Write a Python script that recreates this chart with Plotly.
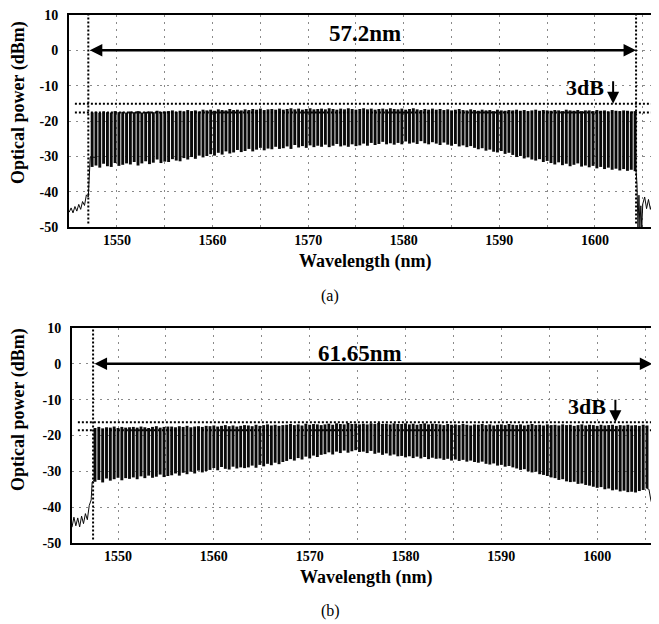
import plotly.graph_objects as go

# ---------------- data ----------------
# (a) comb channels
wl_a = [1547.4,1547.8,1548.2,1548.6,1549.0,1549.4,1549.8,1550.2,1550.6,1551.0,
        1551.4,1551.8,1552.2,1552.6,1553.0,1553.4,1553.8,1554.2,1554.6,1555.0,
        1555.4,1555.8,1556.2,1556.6,1557.0,1557.4,1557.8,1558.2,1558.6,1559.0,
        1559.4,1559.8,1560.2,1560.6,1561.0,1561.4,1561.8,1562.2,1562.6,1563.0,
        1563.4,1563.8,1564.2,1564.6,1565.0,1565.4,1565.8,1566.2,1566.6,1567.0,
        1567.4,1567.8,1568.2,1568.6,1569.0,1569.4,1569.8,1570.2,1570.6,1571.0,
        1571.4,1571.8,1572.2,1572.6,1573.0,1573.4,1573.8,1574.2,1574.6,1575.0,
        1575.4,1575.8,1576.2,1576.6,1577.0,1577.4,1577.8,1578.2,1578.6,1579.0,
        1579.4,1579.8,1580.2,1580.6,1581.0,1581.4,1581.8,1582.2,1582.6,1583.0,
        1583.4,1583.8,1584.2,1584.6,1585.0,1585.4,1585.8,1586.2,1586.6,1587.0,
        1587.4,1587.8,1588.2,1588.6,1589.0,1589.4,1589.8,1590.2,1590.6,1591.0,
        1591.4,1591.8,1592.2,1592.6,1593.0,1593.4,1593.8,1594.2,1594.6,1595.0,
        1595.4,1595.8,1596.2,1596.6,1597.0,1597.4,1597.8,1598.2,1598.6,1599.0,
        1599.4,1599.8,1600.2,1600.6,1601.0,1601.4,1601.8,1602.2,1602.6,1603.0,
        1603.4,1603.8,1604.2]
trough_a = [-33.0,-32.6,-33.2,-32.1,-32.8,-33.0,-31.9,-32.7,-32.4,-32.0,
            -32.3,-31.6,-32.6,-32.0,-31.4,-32.2,-31.8,-30.9,-31.9,-31.5,
            -31.6,-30.8,-31.2,-31.4,-30.5,-30.9,-30.2,-30.7,-29.8,-30.3,
            -29.9,-29.4,-29.8,-29.0,-29.5,-28.6,-29.2,-28.9,-28.2,-28.8,
            -28.5,-27.9,-28.6,-28.1,-27.6,-28.3,-27.8,-28.0,-27.3,-27.9,
            -27.7,-27.2,-27.9,-26.8,-27.5,-27.1,-27.6,-26.9,-27.4,-27.0,
            -27.3,-26.7,-27.4,-27.0,-26.5,-27.2,-26.9,-27.3,-26.6,-27.1,
            -26.9,-26.4,-27.0,-26.2,-26.8,-26.5,-25.9,-26.6,-26.3,-26.7,
            -26.2,-26.6,-25.8,-26.4,-26.1,-26.5,-25.7,-26.3,-26.6,-26.0,
            -26.4,-26.8,-26.1,-26.7,-27.0,-26.5,-27.2,-26.9,-27.4,-27.1,
            -27.6,-28.0,-27.7,-28.4,-28.1,-28.7,-28.9,-28.5,-29.3,-29.0,
            -29.6,-30.2,-29.9,-30.6,-30.3,-30.9,-31.2,-30.8,-31.6,-31.3,
            -31.9,-32.3,-31.7,-32.5,-32.1,-32.8,-32.4,-32.0,-32.9,-32.6,
            -33.1,-32.7,-33.4,-33.0,-33.6,-33.2,-33.8,-33.5,-34.0,-33.6,
            -34.1,-33.8,-34.2]
peak_a = [-17.6,-17.4,-17.7,-17.3,-17.5,-17.6,-17.2,-17.5,-17.4,-17.6,
          -17.3,-17.5,-17.2,-17.6,-17.4,-17.3,-17.5,-17.1,-17.4,-17.3,
          -17.2,-17.0,-17.4,-17.1,-17.3,-16.9,-17.2,-17.0,-17.3,-16.8,
          -17.0,-16.8,-17.1,-16.7,-16.9,-17.0,-16.6,-16.9,-16.8,-17.0,
          -16.7,-16.9,-16.6,-16.8,-16.5,-16.9,-16.7,-16.6,-16.8,-16.5,
          -16.8,-16.6,-16.4,-16.7,-16.5,-16.8,-16.6,-16.4,-16.7,-16.6,
          -16.5,-16.7,-16.4,-16.6,-16.8,-16.5,-16.7,-16.4,-16.6,-16.8,
          -16.6,-16.4,-16.7,-16.5,-16.8,-16.6,-16.5,-16.7,-16.4,-16.6,
          -16.7,-16.5,-16.8,-16.6,-16.4,-16.7,-16.9,-16.6,-16.8,-16.5,
          -16.8,-16.6,-16.9,-16.7,-17.0,-16.8,-16.6,-16.9,-17.0,-16.7,
          -16.9,-17.1,-16.8,-17.0,-16.9,-17.2,-16.8,-17.0,-17.1,-16.9,
          -17.0,-16.8,-17.1,-16.9,-17.2,-17.0,-16.8,-17.1,-16.9,-17.0,
          -17.1,-16.9,-17.0,-17.2,-16.8,-17.0,-17.1,-16.9,-17.2,-17.0,
          -17.0,-17.2,-16.9,-17.1,-17.0,-17.3,-16.9,-17.1,-17.2,-17.0,
          -17.1,-17.3,-17.2]
# (a) ASE floor outside the comb
floor_a_left_x = [1545.0,1545.2,1545.4,1545.6,1545.8,1546.0,1546.2,1546.4,1546.6,1546.8,1547.0,1547.1,1547.2,1547.9]
floor_a_left_y = [-45.8,-44.6,-46.0,-44.2,-45.5,-43.6,-45.0,-42.8,-43.9,-40.9,-41.5,-36.0,-30.2,-30.3]
floor_a_right_x = [1604.3,1604.4,1604.5,1604.6,1604.7,1604.8,1604.9,1605.0,1605.2,1605.4,1605.6,1605.8,1606.0,1606.2,1606.4,1606.7]
floor_a_right_y = [-34.0,-38.0,-50.0,-41.0,-50.0,-44.0,-50.0,-43.5,-41.5,-44.8,-42.2,-45.0,-43.0,-45.5,-44.0,-46.0]

# (b) comb channels
wl_b = [1547.6,1548.0,1548.4,1548.8,1549.2,1549.6,1550.0,1550.4,1550.8,1551.2,
        1551.6,1552.0,1552.4,1552.8,1553.2,1553.6,1554.0,1554.4,1554.8,1555.2,
        1555.6,1556.0,1556.4,1556.8,1557.2,1557.6,1558.0,1558.4,1558.8,1559.2,
        1559.6,1560.0,1560.4,1560.8,1561.2,1561.6,1562.0,1562.4,1562.8,1563.2,
        1563.6,1564.0,1564.4,1564.8,1565.2,1565.6,1566.0,1566.4,1566.8,1567.2,
        1567.6,1568.0,1568.4,1568.8,1569.2,1569.6,1570.0,1570.4,1570.8,1571.2,
        1571.6,1572.0,1572.4,1572.8,1573.2,1573.6,1574.0,1574.4,1574.8,1575.2,
        1575.6,1576.0,1576.4,1576.8,1577.2,1577.6,1578.0,1578.4,1578.8,1579.2,
        1579.6,1580.0,1580.4,1580.8,1581.2,1581.6,1582.0,1582.4,1582.8,1583.2,
        1583.6,1584.0,1584.4,1584.8,1585.2,1585.6,1586.0,1586.4,1586.8,1587.2,
        1587.6,1588.0,1588.4,1588.8,1589.2,1589.6,1590.0,1590.4,1590.8,1591.2,
        1591.6,1592.0,1592.4,1592.8,1593.2,1593.6,1594.0,1594.4,1594.8,1595.2,
        1595.6,1596.0,1596.4,1596.8,1597.2,1597.6,1598.0,1598.4,1598.8,1599.2,
        1599.6,1600.0,1600.4,1600.8,1601.2,1601.6,1602.0,1602.4,1602.8,1603.2,
        1603.6,1604.0,1604.4,1604.8,1605.2]
trough_b = [-32.9,-32.4,-33.1,-32.0,-32.6,-32.2,-31.8,-32.5,-31.9,-32.1,
            -31.7,-32.2,-31.4,-31.9,-31.2,-31.8,-31.5,-30.9,-31.6,-31.3,
            -31.1,-30.6,-31.2,-30.4,-30.8,-30.1,-30.6,-29.8,-30.3,-29.9,
            -29.6,-29.1,-29.7,-28.8,-29.3,-29.5,-28.7,-29.2,-28.9,-29.1,
            -28.9,-28.4,-29.0,-28.2,-28.6,-27.9,-28.3,-27.6,-28.0,-27.4,
            -27.1,-26.6,-27.0,-26.3,-26.7,-25.9,-26.4,-25.6,-26.0,-25.4,
            -25.2,-24.7,-25.3,-24.5,-24.9,-24.2,-24.8,-24.4,-24.1,-24.6,
            -24.5,-24.9,-24.3,-25.1,-24.8,-25.4,-25.0,-25.6,-25.3,-25.8,
            -25.7,-26.1,-25.8,-26.3,-25.9,-26.4,-26.0,-26.6,-26.2,-26.5,
            -26.4,-26.8,-26.5,-27.0,-26.7,-27.1,-26.8,-27.3,-27.0,-27.4,
            -27.6,-27.3,-27.9,-28.1,-27.8,-28.4,-28.2,-28.7,-28.5,-28.9,
            -29.2,-29.6,-29.4,-30.0,-30.3,-30.1,-30.8,-31.0,-31.3,-31.7,
            -31.9,-32.4,-32.2,-32.8,-33.0,-32.9,-33.5,-33.4,-33.8,-34.0,
            -34.3,-34.6,-34.4,-35.0,-34.8,-35.3,-35.1,-35.6,-35.4,-35.8,
            -35.7,-35.9,-35.5,-35.2,-34.8]
peak_b = [-17.9,-17.6,-18.0,-17.7,-17.8,-17.5,-17.9,-17.6,-17.8,-17.7,
          -17.6,-17.8,-17.5,-17.7,-17.9,-17.6,-17.4,-17.8,-17.6,-17.5,
          -17.5,-17.7,-17.4,-17.6,-17.3,-17.7,-17.5,-17.4,-17.6,-17.3,
          -17.4,-17.2,-17.5,-17.3,-17.1,-17.4,-17.2,-17.5,-17.3,-17.1,
          -17.2,-17.4,-17.0,-17.3,-17.1,-16.9,-17.2,-17.0,-17.3,-17.1,
          -17.0,-16.8,-17.1,-16.9,-17.2,-16.7,-17.0,-16.8,-16.9,-17.1,
          -16.9,-16.7,-17.0,-16.6,-16.8,-16.9,-16.5,-16.8,-16.7,-16.9,
          -16.7,-16.9,-16.6,-16.8,-16.5,-16.8,-16.7,-16.9,-16.6,-16.8,
          -16.8,-16.6,-16.9,-16.7,-17.0,-16.8,-16.6,-16.9,-16.7,-16.8,
          -16.9,-17.1,-16.8,-17.0,-16.9,-17.1,-16.8,-17.0,-17.2,-16.9,
          -17.0,-16.8,-17.1,-16.9,-17.2,-17.0,-16.9,-17.1,-16.8,-17.0,
          -17.1,-16.9,-17.2,-17.0,-16.8,-17.1,-17.0,-17.2,-16.9,-17.1,
          -17.0,-17.2,-16.9,-17.1,-17.0,-17.3,-17.1,-16.9,-17.2,-17.0,
          -17.1,-17.3,-17.0,-17.2,-17.1,-17.0,-17.3,-17.1,-17.2,-17.0,
          -17.2,-17.1,-17.3,-17.0,-17.2]
floor_b_left_x = [1545.2,1545.4,1545.6,1545.8,1546.0,1546.2,1546.4,1546.6,1546.8,1547.0,1547.2,1547.3,1547.5]
floor_b_left_y = [-45.6,-42.8,-45.2,-43.0,-45.5,-42.5,-44.6,-41.8,-43.5,-39.5,-38.0,-33.0,-32.5]
floor_b_right_x = [1605.2,1605.4,1605.6,1605.8,1605.9,1606.0,1606.1,1606.2,1606.3,1606.45]
floor_b_right_y = [-34.8,-35.0,-38.0,-40.0,-44.0,-42.0,-47.0,-45.0,-49.0,-48.5]

# band edges, level lines and labels
edges_a = [1547.0, 1604.3]
levels_a = [-15.1, -17.6]
edges_b = [1547.4, 1605.75]
levels_b = [-16.3, -18.5]
span_labels = ["57.2nm", "61.65nm"]
panel_labels = ["(a)", "(b)"]
x_tickvals = [1550, 1555, 1560, 1565, 1570, 1575, 1580, 1585, 1590, 1595, 1600, 1605]
x_ticktext = ["1550", "", "1560", "", "1570", "", "1580", "", "1590", "", "1600", ""]
y_tickvals = [10, 0, -10, -20, -30, -40, -50]
y_ticktext = ["10", "0", "-10", "-20", "-30", "-40", "-50"]

# ---------------- figure ----------------
# the page body adds an 8 px margin, so the figure is laid out 8 px up/left
OFF = 8
W, H = 659 - OFF, 624 - OFF
SERIF = "Liberation Serif"
INK = "#0a0a0a"


def P(px, py):
    """page pixel -> paper fraction"""
    return (px - OFF) / W, 1 - (py - OFF) / H


def comb_xy(wl, lo, hi):
    xs, ys = [], []
    for w, a, b in zip(wl, lo, hi):
        xs += [w, w, None]
        ys += [a, b, None]
    return xs, ys


fig = go.Figure()
for wl, lo, hi, xa, ya in [(wl_a, trough_a, peak_a, "x", "y"), (wl_b, trough_b, peak_b, "x2", "y2")]:
    cx, cy = comb_xy(wl, lo, hi)
    fig.add_trace(go.Scatter(x=cx, y=cy, mode="lines", line=dict(color=INK, width=2.9),
                             xaxis=xa, yaxis=ya, showlegend=False, hoverinfo="skip"))

for fx, fy, xa, ya in [(floor_a_left_x, floor_a_left_y, "x", "y"), (floor_a_right_x, floor_a_right_y, "x", "y"),
                       (floor_b_left_x, floor_b_left_y, "x2", "y2"), (floor_b_right_x, floor_b_right_y, "x2", "y2")]:
    fig.add_trace(go.Scatter(x=fx, y=fy, mode="lines", line=dict(color=INK, width=1),
                             xaxis=xa, yaxis=ya, showlegend=False, hoverinfo="skip"))

tickfont = dict(family=SERIF, size=14, color="black", weight="bold")
common_x = dict(tickvals=x_tickvals, ticktext=x_ticktext, showgrid=True, gridcolor="#8a8a8a",
                griddash="2px,5px", gridwidth=1, showline=True, linecolor="black", linewidth=2,
                mirror=True, ticks="", tickfont=tickfont, zeroline=False, ticklabelstandoff=-1,
                automargin=False, ticklabeloverflow="allow")
common_y = dict(tickvals=y_tickvals, ticktext=y_ticktext, range=[-50, 10], showgrid=True,
                gridcolor="#8a8a8a", griddash="2px,5px", gridwidth=1, showline=True,
                linecolor="black", linewidth=2, ticks="", tickfont=tickfont, zeroline=False,
                ticklabelstandoff=6, automargin=False, ticklabeloverflow="allow")

xa0, ya0 = P(69, 227)
xa1, ya1 = P(659, 15)
xb0, yb0 = P(72, 543)
xb1, yb1 = P(659, 328)
fig.update_layout(
    width=W, height=H, margin=dict(l=0, r=0, t=0, b=0, pad=0, autoexpand=False),
    paper_bgcolor="white", plot_bgcolor="white", showlegend=False,
    xaxis=dict(common_x, domain=[xa0, xa1], range=[1544.98, 1606.7], anchor="y"),
    yaxis=dict(common_y, domain=[ya0, ya1], anchor="x"),
    xaxis2=dict(common_x, domain=[xb0, xb1], range=[1545.2, 1606.45], anchor="y2"),
    yaxis2=dict(common_y, domain=[yb0, yb1], anchor="x2"),
)

dot = dict(color="black", width=2, dash="2px,2px")
for edges, levels, xr, yr in [(edges_a, levels_a, "x", "y"), (edges_b, levels_b, "x2", "y2")]:
    for e in edges:
        fig.add_shape(type="line", xref=xr, yref=yr, x0=e, x1=e, y0=-49, y1=10, line=dot)
    for lv in levels:
        fig.add_shape(type="line", xref=xr + " domain", yref=yr, x0=0.01, x1=1, y0=lv, y1=lv, line=dot)

# double arrows and labels
for edges, levels, lab, xr, yr, lab_x, lab_y, db_x, db_y in [
        (edges_a, levels_a, span_labels[0], "x", "y", 1575.9, 4.8, 1599.0, -10.6),
        (edges_b, levels_b, span_labels[1], "x2", "y2", 1575.3, 3.0, 1598.9, -12.0)]:
    fig.add_annotation(x=edges[1], y=0, ax=edges[0], ay=0, xref=xr, yref=yr, axref=xr, ayref=yr,
                       text="", showarrow=True, arrowhead=2, startarrowhead=2, arrowside="end+start",
                       arrowwidth=2.5, arrowsize=1, startarrowsize=1, arrowcolor="black")
    fig.add_annotation(x=lab_x, y=lab_y, xref=xr, yref=yr, text=lab, showarrow=False,
                       xanchor="center", yanchor="middle",
                       font=dict(family=SERIF, size=23, color="black", weight="bold"))
    fig.add_annotation(x=db_x, y=db_y, xref=xr, yref=yr, text="3dB", showarrow=False,
                       xanchor="center", yanchor="middle",
                       font=dict(family=SERIF, size=22, color="black", weight="bold"))
    fig.add_annotation(x=1601.9, y=levels[0], xref=xr, yref=yr, ax=0, ay=-24, text="",
                       showarrow=True, arrowhead=2, arrowwidth=2, arrowsize=1.2, arrowcolor="black")

# axis titles and panel labels (paper coords from page pixel positions)
titlefont = dict(family=SERIF, size=18, color="black", weight="bold")
for (tx, ty), (wx, wy), (px_, py_), plab in [((18, 103), (365, 261), (330, 296), panel_labels[0]),
                                             ((18, 410), (366, 577), (330, 611), panel_labels[1])]:
    x0, y0 = P(tx, ty)
    fig.add_annotation(x=x0, y=y0, xref="paper", yref="paper", text="Optical power (dBm)",
                       textangle=-90, showarrow=False, xanchor="center", yanchor="middle",
                       font=titlefont)
    x0, y0 = P(wx, wy)
    fig.add_annotation(x=x0, y=y0, xref="paper", yref="paper", text="Wavelength (nm)",
                       showarrow=False, xanchor="center", yanchor="middle", font=titlefont)
    x0, y0 = P(px_, py_)
    fig.add_annotation(x=x0, y=y0, xref="paper", yref="paper", text=plab, showarrow=False,
                       xanchor="center", yanchor="middle",
                       font=dict(family=SERIF, size=16, color="black"))

fig.write_html("out.html")
